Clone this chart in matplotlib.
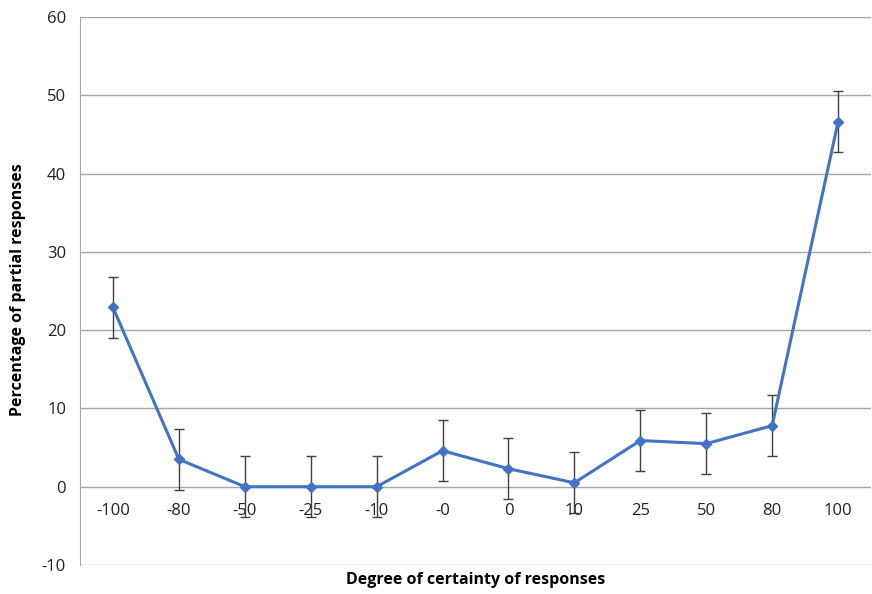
import numpy as np
import matplotlib.pyplot as plt

# ----------- data ----------------
categories = ["-100", "-80", "-50", "-25", "-10", "-0", "0", "10", "25", "50", "80", "100"]
percent = [22.9, 3.5, 0.0, 0.0, 0.0, 4.6, 2.3, 0.5, 5.9, 5.5, 7.8, 46.6]
err = [3.9] * len(categories)

plt.rcParams["font.family"] = ["Open Sans", "DejaVu Sans"]
plt.rcParams["axes.unicode_minus"] = False

fig = plt.figure(figsize=(8.72, 5.94), dpi=100)
ax = fig.add_axes([80 / 872, 29 / 594, 791 / 872, 548 / 594])

x = np.arange(len(categories)) + 0.5
ax.errorbar(x, percent, yerr=err, fmt="none", ecolor="#404040", elinewidth=1,
            capsize=3.5, capthick=1, zorder=2)
ax.plot(x, percent, color="#4472C4", lw=2.2, marker="D", ms=5.5, zorder=3)

ax.set_xlim(0, len(categories))
ax.set_ylim(-10, 60)
ax.set_yticks(np.arange(-10, 61, 10))
ax.set_xticks(x)
ax.set_xticklabels(categories)

# grid
ax.yaxis.grid(True, color="#a6a6a6", lw=1)
ax.set_axisbelow(True)
for s in ["top", "right"]:
    ax.spines[s].set_visible(False)
ax.spines["bottom"].set_position(("data", 0))
ax.spines["bottom"].set_visible(False)
ax.spines["left"].set_color("#a6a6a6")
ax.tick_params(axis="both", length=0, labelsize=12, colors="#222222")
ax.tick_params(axis="x", pad=12)
ax.tick_params(axis="y", pad=10)

fig.text(476 / 872, 1 - 580 / 594, "Degree of certainty of responses",
         ha="center", va="center", fontsize=11.5, fontweight="bold")
fig.text(18 / 872, 1 - 290 / 594, "Percentage of partial responses",
         ha="center", va="center", rotation=90, fontsize=11.5, fontweight="bold")

fig.savefig("out.png", dpi=100)
